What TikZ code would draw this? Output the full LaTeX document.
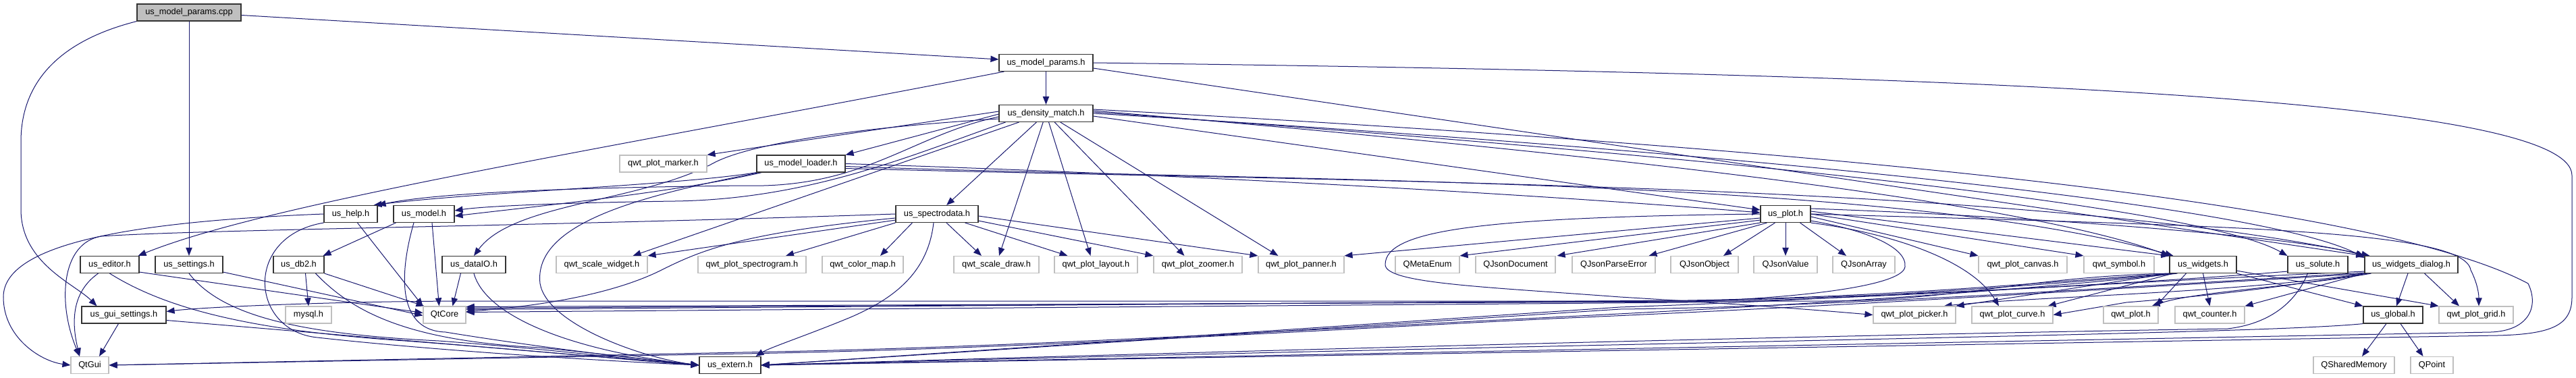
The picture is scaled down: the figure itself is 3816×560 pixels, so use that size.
\documentclass[tikz,border=0pt]{standalone}
\usepackage{fontspec}
\setmainfont{Liberation Sans}
\usetikzlibrary{arrows.meta,calc}
\definecolor{navyc}{HTML}{191970}
\definecolor{boxg}{HTML}{BFBFBF}
\definecolor{boxk}{HTML}{333333}
\pgfdeclarelayer{bg}
\pgfsetlayers{bg,main}
\begin{document}
\begin{tikzpicture}[x=0.75pt,y=-0.75pt,
 nb/.style={draw=boxk, line width=0.85pt, fill=white, minimum height=18.75pt, inner sep=0pt, font=\fontsize{9.6}{11}\selectfont},
 gb/.style={nb, draw=boxg},
 rb/.style={nb, fill=boxg},
 wd/.style={minimum width=#1*0.75pt},
 edg/.style={draw=navyc, line width=0.75pt, -{Triangle[length=9pt,width=7pt]}},
]
\useasboundingbox (0,0) rectangle (3816,560);
% ---------- nodes ----------
\node[rb,wd=154] (cpp) at (280,18.5) {us\_model\_params.cpp};
\node[nb,wd=139] (ph) at (1549.5,93) {us\_model\_params.h};
\node[nb,wd=139] (dm) at (1549.5,168) {us\_density\_match.h};
\node[gb,wd=129] (mk) at (982.5,242.5) {qwt\_plot\_marker.h};
\node[nb,wd=131] (ld) at (1186.5,242.5) {us\_model\_loader.h};
\node[nb,wd=79] (hp) at (519.5,317) {us\_help.h};
\node[nb,wd=90] (md) at (628,317) {us\_model.h};
\node[nb,wd=122] (sp) at (1388,317) {us\_spectrodata.h};
\node[nb,wd=74] (pl) at (2645,317) {us\_plot.h};
% row 5
\node[nb,wd=87] (ed) at (162.5,392) {us\_editor.h};
\node[nb,wd=100] (set) at (280,392) {us\_settings.h};
\node[nb,wd=75] (db) at (442.5,392) {us\_db2.h};
\node[nb,wd=94] (dio) at (702,392) {us\_dataIO.h};
\node[gb,wd=135] (sw) at (891.5,392) {qwt\_scale\_widget.h};
\node[gb,wd=160] (sg) at (1114,392) {qwt\_plot\_spectrogram.h};
\node[gb,wd=120] (cm) at (1278,392) {qwt\_color\_map.h};
\node[gb,wd=126] (sd) at (1476,392) {qwt\_scale\_draw.h};
\node[gb,wd=123] (la) at (1623.5,392) {qwt\_plot\_layout.h};
\node[gb,wd=131] (zm) at (1774.5,392) {qwt\_plot\_zoomer.h};
\node[gb,wd=127] (pn) at (1927.5,392) {qwt\_plot\_panner.h};
\node[gb,wd=95] (me) at (2114.5,392) {QMetaEnum};
\node[gb,wd=118] (jd) at (2245,392) {QJsonDocument};
\node[gb,wd=123] (jp) at (2390.5,392) {QJsonParseError};
\node[gb,wd=100] (jo) at (2525,392) {QJsonObject};
\node[gb,wd=94] (jv) at (2645,392) {QJsonValue};
\node[gb,wd=92] (ja) at (2761,392) {QJsonArray};
\node[gb,wd=131] (cv) at (2996.5,392) {qwt\_plot\_canvas.h};
\node[gb,wd=104] (sy) at (3139,392) {qwt\_symbol.h};
\node[nb,wd=99] (wg) at (3263.5,392) {us\_widgets.h};
\node[nb,wd=89] (sl) at (3433.5,392) {us\_solute.h};
\node[nb,wd=138] (wdl) at (3572,392) {us\_widgets\_dialog.h};
% row 6
\node[nb,wd=125] (gs) at (183.5,466.5) {us\_gui\_settings.h};
\node[gb,wd=68] (my) at (457,466.5) {mysql.h};
\node[gb,wd=63] (qc) at (658.5,466.5) {QtCore};
\node[gb,wd=122] (pk) at (2836,466.5) {qwt\_plot\_picker.h};
\node[gb,wd=120] (cu) at (2981,466.5) {qwt\_plot\_curve.h};
\node[gb,wd=81] (qp) at (3156.5,466.5) {qwt\_plot.h};
\node[gb,wd=103] (ct) at (3273.5,466.5) {qwt\_counter.h};
\node[nb,wd=88] (gl) at (3545,466.5) {us\_global.h};
\node[gb,wd=110] (gd) at (3668,466.5) {qwt\_plot\_grid.h};
% row 7
\node[gb,wd=56] (qg) at (133,541) {QtGui};
\node[nb,wd=91] (ex) at (1081.5,541) {us\_extern.h};
\node[gb,wd=120] (qsm) at (3487,541) {QSharedMemory};
\node[gb,wd=63] (qpt) at (3602.5,541) {QPoint};
% ---------- edges ----------
\begin{pgfonlayer}{bg}
\fill[white] (0,0) rectangle (3816,560);
% cpp
\draw[edg] ($(cpp.east)+(0,4)$) -- ($(ph.west)+(0,-5)$);
\draw[edg] (cpp) -- (set);
\draw[edg] (cpp.south west) .. controls (90,60) and (31,120) .. (31,210) -- (31,310) .. controls (31,390) and (110,420) .. ($(gs.north)+(-40,0)$);
% params h
\draw[edg] (ph) -- (dm);
\draw[edg] ($(ph.south west)+(8,0)$) .. controls (900,220) and (400,300) .. ($(ed.north east)+(-2,0)$);
\draw[edg] ($(ph.east)+(0,8)$) -- (wdl.north west);
\draw[edg] (ph.east) .. controls (3000,110) and (3810,150) .. (3810,260) -- (3810,440) .. controls (3810,482) and (3780,495) .. (3700,497) -- (ex.east);
% density
\draw[edg] ($(dm.west)+(0,-3)$) -- (mk.north east);
\draw[edg] ($(dm.west)+(0,1)$) -- (ld.north east);
\draw[edg] ($(dm.west)+(0,5)$) .. controls (1350,200) and (1280,280) .. (1100,275) .. controls (850,278) and (650,285) .. (hp.north east);
\draw[edg] ($(dm.south west)+(10,0)$) .. controls (1350,230) and (1200,295) .. (1000,298) .. controls (850,300) and (720,305) .. ($(md.east)+(0,-5)$);
\draw[edg] (dm) -- (sp);
\draw[edg] ($(dm.west)+(0,8)$) .. controls (1250,190) and (1110,215) .. (1060,240) .. controls (950,300) and (760,300) .. (dio.north);
\draw[edg] ($(dm.south west)+(30,0)$) -- ($(sw.north east)+(-22,0)$);
\draw[edg] (dm) -- ($(sd.north)+(4,0)$);
\draw[edg] (dm) -- ($(la.north)+(-8,0)$);
\draw[edg] (dm) -- ($(zm.north)+(-20,0)$);
\draw[edg] (dm) -- ($(pn.north west)+(30,0)$);
\draw[edg] ($(dm.east)+(0,4)$) -- ($(pl.west)+(0,-6)$);
\draw[edg] ($(dm.east)+(0,-4)$) .. controls (2400,230) and (3000,300) .. (wg.north west);
\draw[edg] ($(dm.east)+(0,-2)$) .. controls (2450,225) and (3250,300) .. (sl.north west);
\draw[edg] (dm.east) .. controls (2500,220) and (3350,300) .. ($(wdl.north west)+(0,3)$);
\draw[edg] ($(dm.east)+(0,-6)$) .. controls (2600,215) and (3500,290) .. (3745,420) .. controls (3762,455) and (3745,490) .. (3690,492) -- (ex.east);
% loader
\draw[edg] (ld.south west) .. controls (1000,275) and (700,285) .. ($(hp.north east)+(-6,0)$);
\draw[edg] ($(ld.south west)+(8,0)$) .. controls (1000,285) and (800,305) .. ($(md.east)+(0,3)$);
\draw[edg] ($(ld.south west)+(4,0)$) .. controls (950,290) and (790,330) .. (800,420) .. controls (810,480) and (950,530) .. (ex.west);
\draw[edg] (ld.east) .. controls (1800,260) and (2300,290) .. ($(pl.west)+(0,-2)$);
\draw[edg] ($(ld.east)+(0,4)$) .. controls (1900,270) and (2800,260) .. ($(wg.north west)+(6,0)$);
\draw[edg] ($(ld.east)+(0,7)$) .. controls (2000,270) and (3000,270) .. ($(wdl.north west)+(8,0)$);
% model
\draw[edg] ($(md.south west)+(4,0)$) -- ($(db.north east)+(-2,0)$);
\draw[edg] ($(md.south)+(12,0)$) -- ($(qc.north)+(-8,0)$);
\draw[edg] ($(md.south)+(-15,0)$) .. controls (590,410) and (590,490) .. (660,492) .. controls (800,515) and (950,532) .. (ex.west);
% help
\draw[edg] (hp.west) .. controls (200,328) and (5,360) .. (5,440) .. controls (5,500) and (60,535) .. (qg.west);
\draw[edg] ($(hp.south)+(10,0)$) -- (qc.north west);
\draw[edg] (hp.south west) .. controls (360,350) and (370,490) .. (470,500) .. controls (650,520) and (900,535) .. (ex.west);
% editor
\draw[edg] ($(ed.south)+(-17,0)$) .. controls (110,430) and (104,470) .. ($(qg.north)+(-15,0)$);
\draw[edg] ($(ed.south east)+(0,-2)$) -- ($(qc.west)+(0,-3)$);
\draw[edg] (ed.south) .. controls (250,460) and (380,490) .. (600,505) .. controls (800,520) and (950,535) .. (ex.west);
% settings
\draw[edg] ($(set.south east)+(0,-2)$) -- ($(qc.west)+(0,1)$);
\draw[edg] (set.south) .. controls (330,470) and (450,495) .. (650,505) .. controls (850,520) and (950,535) .. (ex.west);
% gui settings
\draw[edg] ($(gs.south)+(-8,0)$) -- ($(qg.north)+(14,0)$);
\draw[edg] ($(gs.east)+(0,8)$) -- (ex.west);
% db2
\draw[edg] ($(db.south)+(10,0)$) -- (my.north);
\draw[edg] (db.south east) -- ($(qc.north west)+(2,0)$);
\draw[edg] ($(db.south)+(25,0)$) .. controls (520,460) and (600,505) .. (800,515) .. controls (900,525) and (980,535) .. (ex.west);
% dataIO
\draw[edg] ($(dio.south west)+(28,0)$) -- ($(qc.north)+(12,0)$);
\draw[edg] (dio.south) .. controls (720,470) and (850,520) .. (ex.west);
% spectrodata
\draw[edg] (sp.west) .. controls (800,335) and (300,340) .. (150,350) .. controls (90,360) and (85,450) .. ($(qg.north)+(-15,0)$);
\draw[edg] ($(sp.west)+(0,6)$) .. controls (1100,345) and (1040,370) .. (980,400) .. controls (900,440) and (780,455) .. ($(qc.east)+(0,-5)$);
\draw[edg] ($(sp.south)+(-5,0)$) .. controls (1375,400) and (1330,440) .. (1260,470) .. controls (1200,495) and (1140,515) .. ($(ex.north east)+(-8,0)$);
\draw[edg] (sp.south west) -- ($(sg.north)+(50,0)$);
\draw[edg] ($(sp.south west)+(25,0)$) -- ($(cm.north)+(26,0)$);
\draw[edg] ($(sp.south)+(14,0)$) -- ($(sd.north)+(-22,0)$);
\draw[edg] ($(sp.south east)+(-20,0)$) -- ($(la.north)+(-42,0)$);
\draw[edg] ($(sp.south east)+(0,-3)$) -- (zm.north west);
\draw[edg] ($(sp.east)+(0,3)$) -- (pn.north west);
\draw[edg] ($(sp.south west)+(0,-4)$) -- (sw.north east);
% plot
\draw[edg] ($(pl.south west)+(0,-4)$) -- (me.north east);
\draw[edg] (pl.south west) -- ($(jd.north east)+(2,0)$);
\draw[edg] ($(pl.south west)+(10,0)$) -- ($(jp.north)+(52,0)$);
\draw[edg] ($(pl.south west)+(22,0)$) -- ($(jo.north)+(28,0)$);
\draw[edg] (pl) -- (jv);
\draw[edg] ($(pl.south east)+(-16,0)$) -- ($(ja.north)+(-26,0)$);
\draw[edg] ($(pl.east)+(0,4)$) -- (cv.north west);
\draw[edg] (pl.east) -- (sy.north west);
\draw[edg] (pl.south east) .. controls (2800,345) and (2920,385) .. ($(cu.north)+(-20,0)$);
\draw[edg] (pl.west) .. controls (2200,322) and (2052,340) .. (2052,392) .. controls (2052,420) and (2200,425) .. (2400,440) .. controls (2600,452) and (2700,460) .. (pk.west);
\draw[edg] ($(pl.south east)+(0,-3)$) .. controls (2760,340) and (2825,365) .. (2822,395) .. controls (2820,420) and (2700,440) .. (2500,447) -- ($(qc.east)+(0,-12)$);
\draw[edg] ($(pl.west)+(0,6)$) -- (pn.north east);
\draw[edg] ($(pl.east)+(0,-4)$) -- (wg.north west);
\draw[edg] ($(pl.east)+(0,-8)$) .. controls (3000,320) and (3400,350) .. (wdl.north west);
\draw[edg] (pl.east) .. controls (3300,335) and (3650,340) .. (3660,400) .. controls (3670,420) and (3672,435) .. ($(gd.north)+(4,0)$);
% widgets
\draw[edg] (wg.south west) .. controls (3000,410) and (2900,446) .. (2700,446) -- (700,446) .. controls (500,446) and (300,455) .. ($(gs.east)+(0,-5)$);
\draw[edg] ($(wg.south west)+(4,0)$) .. controls (3000,420) and (2800,440) .. (2500,445) -- ($(qc.east)+(0,-8)$);
\draw[edg] ($(wg.south west)+(8,0)$) .. controls (3000,425) and (2700,445) .. (2400,455) -- (ex.east);
\draw[edg] ($(wg.south west)+(12,0)$) .. controls (3000,430) and (2700,450) .. (2300,470) .. controls (1900,490) and (1500,515) .. (1100,522) -- (qg.east);
\draw[edg] (wg.south east) -- (gl.north west);
\draw[edg] ($(wg.south east)+(0,-4)$) -- (gd.north west);
\draw[edg] (wg.south) -- (ct.north);
\draw[edg] ($(wg.south)+(-25,0)$) -- ($(qp.north east)+(-4,0)$);
\draw[edg] ($(wg.south west)+(6,0)$) -- ($(cu.north east)+(-8,0)$);
\draw[edg] ($(wg.south west)+(2,0)$) -- (pk.north east);
% widgets dialog
\draw[edg] ($(wdl.south)+(-5,0)$) -- ($(gl.north)+(5,0)$);
\draw[edg] ($(wdl.south east)+(-50,0)$) -- ($(gd.north)+(-25,0)$);
\draw[edg] (wdl.south west) -- (ct.north east);
\draw[edg] ($(wdl.south west)+(10,0)$) .. controls (3400,425) and (3250,432) .. ($(qp.north east)+(-10,0)$);
\draw[edg] ($(wdl.south west)+(4,0)$) .. controls (3350,430) and (3250,440) .. (3150,448) -- (cu.east);
\draw[edg] ($(wdl.south west)+(2,0)$) .. controls (3300,435) and (3000,440) .. ($(pk.north east)+(-18,0)$);
\draw[edg] ($(wdl.south west)+(0,-3)$) .. controls (3100,420) and (2800,442) .. (2500,448) -- ($(qc.east)+(0,-4)$);
\draw[edg] ($(wdl.south west)+(0,-1)$) .. controls (3100,428) and (2700,455) .. (2400,458) -- (ex.east);
\draw[edg] ($(wdl.south west)+(6,0)$) .. controls (3100,430) and (2700,455) .. (2300,472) .. controls (1900,492) and (1500,517) .. (1100,524) -- (qg.east);
% solute
\draw[edg] ($(sl.south west)+(0,-3)$) .. controls (3200,418) and (2800,440) .. (2500,446) -- ($(qc.east)+(0,-10)$);
\draw[edg] ($(sl.south)+(-15,0)$) .. controls (3400,450) and (3360,480) .. (3300,487) .. controls (2500,500) and (1500,530) .. (ex.east);
% global
\draw[edg] ($(gl.south)+(-10,0)$) -- ($(qsm.north)+(12,0)$);
\draw[edg] ($(gl.south)+(11,0)$) -- ($(qpt.north)+(-13,0)$);
\draw[edg] (gl.south west) .. controls (3350,495) and (2500,505) .. (ex.east);
\end{pgfonlayer}
\end{tikzpicture}
\end{document}
